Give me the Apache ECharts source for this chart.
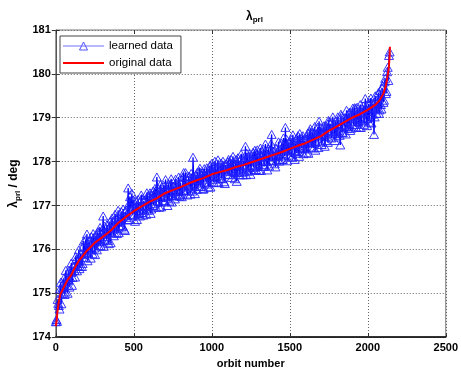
<!DOCTYPE html>
<html>
<head>
<meta charset="utf-8">
<script src="https://cdn.jsdelivr.net/npm/echarts@6/dist/echarts.min.js"></script>
<style>html,body{margin:0;padding:0;background:#fff}#c{width:461px;height:374px}</style>
</head>
<body>
<div id="c"></div>
<script>
// original data (orbit, value)
const originalOrbits = [0,5,10,20,30,50,75,100,125,150,200,250,300,350,400,450,500,550,600,650,700,750,800,850,900,950,1000,1050,1100,1150,1200,1250,1300,1350,1400,1450,1500,1550,1600,1650,1700,1750,1800,1850,1900,1950,2000,2050,2075,2100,2115,2125,2135,2140,2142];
const originalValues = [174.25,174.35,174.55,174.82,174.98,175.12,175.3,175.42,175.6,175.75,175.97,176.15,176.28,176.42,176.6,176.74,176.87,176.98,177.08,177.17,177.28,177.35,177.42,177.5,177.57,177.63,177.71,177.76,177.81,177.87,177.92,177.98,178.04,178.1,178.16,178.22,178.29,178.36,178.42,178.5,178.58,178.7,178.8,178.9,179.0,179.08,179.18,179.3,179.39,179.55,179.72,179.9,180.15,180.4,180.62];

// learned data, first set: orbits 0, 8, 16, ...
const learnedOrbitStep = 8;
const learnedValuesA = [
174.35,174.36,174.77,174.64,175.25,174.99,175.23,174.97,175.52,175.18,175.32,175.14,175.55,175.18,175.6,175.52,175.84,175.51,175.75,175.56,
175.9,175.61,176.07,175.89,176.22,176.35,175.92,176.19,175.8,176.15,176.36,176.03,176.3,175.99,176.23,176.42,176.08,176.35,176.76,176.53,
176.29,176.56,176.2,176.51,176.15,176.71,176.53,176.38,176.71,176.36,176.89,176.54,176.72,176.51,176.92,176.46,176.86,176.73,177.4,176.68,
176.96,177.28,177.13,176.79,176.96,176.68,177.14,176.82,176.98,177.16,176.78,177.12,176.98,177.29,176.89,177.23,176.82,177.16,177.33,177.04,
177.33,177.65,177.23,176.96,177.48,177.18,177.38,177.08,177.59,177.2,177.31,177.1,177.49,177.08,177.44,177.32,177.6,177.23,177.43,177.21,
177.52,177.2,177.65,177.44,177.75,177.33,177.42,177.67,177.26,177.59,178.1,177.44,177.69,177.37,177.6,177.78,177.43,177.69,177.37,177.84,
177.6,177.86,177.49,177.8,177.42,177.96,177.76,177.6,177.9,177.53,178.04,177.68,177.84,177.61,178.01,177.54,177.92,177.78,178.0,177.7,
177.97,177.64,178.12,177.77,177.93,177.55,178.09,177.76,177.91,178.09,177.7,178.03,178.35,178.19,177.78,178.12,177.71,178.04,178.21,177.91,
178.2,177.89,178.09,177.8,178.31,178.0,178.19,177.89,178.4,178.0,178.11,177.9,178.28,178.62,178.24,178.12,177.88,178.02,178.23,178.01,
178.17,178.42,178.05,178.35,178.78,178.51,178.31,178.15,178.46,178.1,178.61,178.25,178.41,178.19,178.59,178.12,178.5,178.36,178.59,178.29,
178.52,178.2,178.65,178.44,178.75,178.33,178.42,178.67,178.26,178.6,178.79,178.92,178.7,178.39,178.63,178.82,178.48,178.75,178.44,178.91,
178.86,178.54,179.02,178.68,178.84,178.56,179.02,178.7,178.38,179.04,178.66,179.0,178.85,179.17,178.76,179.11,178.71,179.04,179.22,178.92,
179.21,178.85,179.06,178.78,179.3,178.98,179.2,178.85,179.44,178.98,179.15,178.9,179.35,178.88,179.32,178.62,179.5,179.1,179.36,179.1,
179.62,179.2,179.72,179.4,179.9,179.6,180.15,180.42
];
// learned data, second set: orbits 4, 12, 20, ...
const learnedOffsetB = 4;
const learnedValuesB = [
174.4,174.86,174.72,175.1,174.76,175.13,175.34,175.03,175.35,175.0,175.52,175.36,175.69,175.36,175.61,175.37,175.78,175.63,175.99,175.61,
175.89,175.68,176.19,175.81,175.98,175.74,176.18,176.0,176.29,175.9,176.24,175.88,176.22,176.39,176.08,176.5,176.17,176.41,176.07,176.39,
176.23,176.46,176.13,176.63,176.4,176.64,176.31,176.8,176.47,176.7,176.38,176.65,176.86,176.53,176.76,176.43,176.9,176.67,177.03,177.2,
177.05,176.78,176.99,176.64,177.09,176.81,176.99,176.76,177.24,176.84,177.1,177.0,176.8,177.22,176.97,177.29,176.92,177.18,177.0,177.39,
176.96,177.41,177.09,177.36,176.97,177.3,177.46,177.11,177.39,177.0,177.49,177.31,177.61,177.23,177.43,177.15,177.51,177.32,177.65,177.24,
177.5,177.26,177.75,177.34,177.49,177.24,177.66,177.46,177.73,177.33,177.65,177.27,177.6,177.76,177.44,177.85,177.51,177.74,177.39,177.7,
177.53,177.75,177.42,177.91,177.66,177.88,177.53,178.01,177.65,177.86,177.52,177.78,177.97,177.62,177.84,177.5,177.95,177.71,178.05,177.81,
178.05,177.77,177.97,177.61,178.05,177.76,177.93,177.7,178.17,177.76,178.01,177.9,177.7,178.11,177.86,178.18,177.8,178.06,177.87,178.26,
177.82,178.27,177.94,178.2,177.8,178.12,178.28,177.93,178.2,177.81,178.3,178.11,178.41,178.03,178.24,177.95,178.31,178.12,178.45,178.04,
178.29,178.05,178.54,178.13,178.28,178.02,178.44,178.24,178.51,178.11,178.43,178.05,178.38,178.54,178.23,178.64,178.3,178.53,178.18,178.48,
178.31,178.53,178.19,178.69,178.44,178.66,178.31,178.8,178.45,178.66,178.32,178.59,178.78,178.45,178.68,178.35,178.81,178.58,178.94,178.7,
178.9,178.63,178.83,178.48,178.92,178.64,178.82,178.6,179.08,178.67,178.93,178.83,178.63,179.05,178.8,179.13,178.76,179.02,178.84,179.23,
178.79,179.24,178.92,179.18,178.78,179.11,179.27,178.93,179.21,178.82,179.32,179.14,179.45,179.08,179.3,179.02,179.4,179.22,179.57,179.18,
179.3,179.68,179.35,179.82,179.55,180.05,179.85,180.5
];

const xTicks = [0,500,1000,1500,2000,2500];
const yTicks = [174,175,176,177,178,179,180,181];

const learned = [];
learnedValuesA.forEach((v,i)=>{
  learned.push([i*learnedOrbitStep, v]);
  if (i < learnedValuesB.length) learned.push([i*learnedOrbitStep + learnedOffsetB, learnedValuesB[i]]);
});
const original = originalOrbits.map((o,i)=>[o, originalValues[i]]);

const FONT = 'Liberation Sans, Arial, sans-serif';
const chart = echarts.init(document.getElementById('c'), null, {renderer:'canvas'});
const gridLine = {show:true, lineStyle:{color:'#666', width:1, type:[1,2]}};
const subRich = {
  l:{fontSize:12, fontWeight:'bold', fontFamily:FONT, color:'#000'},
  s:{fontSize:8, fontWeight:'bold', fontFamily:FONT, color:'#000', padding:[7,0,0,0]}
};
chart.setOption({
  animation:false,
  backgroundColor:'#fff',
  title:{
    text:'{l|λ}{s|prl}',
    left:241, top:4,
    textStyle:{rich:subRich}
  },
  legend:{
    left:60, top:36, orient:'vertical',
    padding:[4,8,4,2], itemGap:5, itemWidth:41, itemHeight:10,
    borderColor:'#444', borderWidth:1, backgroundColor:'#fff',
    textStyle:{fontSize:11.5, fontFamily:FONT, color:'#000'},
    data:[
      {name:'learned data', lineStyle:{color:'#7070ff', width:1}, itemStyle:{color:'rgba(255,255,255,0)', borderColor:'#5050ff', borderWidth:1}},
      {name:'original data', lineStyle:{color:'#ff0000', width:2}, itemStyle:{color:'rgba(255,255,255,0)', borderColor:'rgba(255,255,255,0)', borderWidth:0}}
    ]
  },
  grid:{left:53, right:12, top:30, bottom:33, show:true, borderColor:'#777', borderWidth:1, backgroundColor:'transparent'},
  xAxis:[{
    type:'value', min:0, max:2500, interval:500,
    name:'orbit number', nameLocation:'middle', nameGap:20,
    nameTextStyle:{fontSize:11, fontWeight:'bold', fontFamily:FONT, color:'#000'},
    axisLine:{show:true, lineStyle:{color:'#000', width:1.5}},
    axisTick:{show:true, inside:true, length:4, lineStyle:{color:'#333'}},
    axisLabel:{fontSize:11, fontWeight:'bold', fontFamily:FONT, color:'#000', margin:5,
      formatter:v=>xTicks.includes(v)?String(v):''},
    splitLine:gridLine
  },{
    type:'value', min:0, max:2500, interval:500, position:'top',
    axisLine:{show:false}, axisTick:{show:true, inside:true, length:4, lineStyle:{color:'#333'}},
    axisLabel:{show:false}, splitLine:{show:false}
  }],
  yAxis:[{
    type:'value', min:174, max:181, interval:1,
    name:'{l|λ}{s|prl}{l| / deg}', nameLocation:'middle', nameGap:33, nameRotate:90,
    nameTextStyle:{rich:subRich},
    axisLine:{show:true, lineStyle:{color:'#555', width:1}},
    axisTick:{show:true, inside:true, length:4, lineStyle:{color:'#333'}},
    axisLabel:{fontSize:11, fontWeight:'bold', fontFamily:FONT, color:'#000', margin:5,
      formatter:v=>yTicks.includes(v)?String(v):''},
    splitLine:gridLine
  },{
    type:'value', min:174, max:181, interval:1, position:'right',
    axisLine:{show:false}, axisTick:{show:true, inside:true, length:4, lineStyle:{color:'#333'}},
    axisLabel:{show:false}, splitLine:{show:false}
  }],
  series:[{
    name:'learned data', type:'line', data:learned,
    symbol:'triangle', symbolSize:[9,8], showSymbol:true,
    lineStyle:{color:'#0000ff', width:1.3},
    itemStyle:{color:'rgba(255,255,255,0)', borderColor:'#2020ff', borderWidth:0.9},
    z:2
  },{
    name:'original data', type:'line', data:original,
    symbol:'none', lineStyle:{color:'#ff0000', width:2},
    itemStyle:{color:'#ff0000'},
    z:3
  }]
});
</script>
</body>
</html>
